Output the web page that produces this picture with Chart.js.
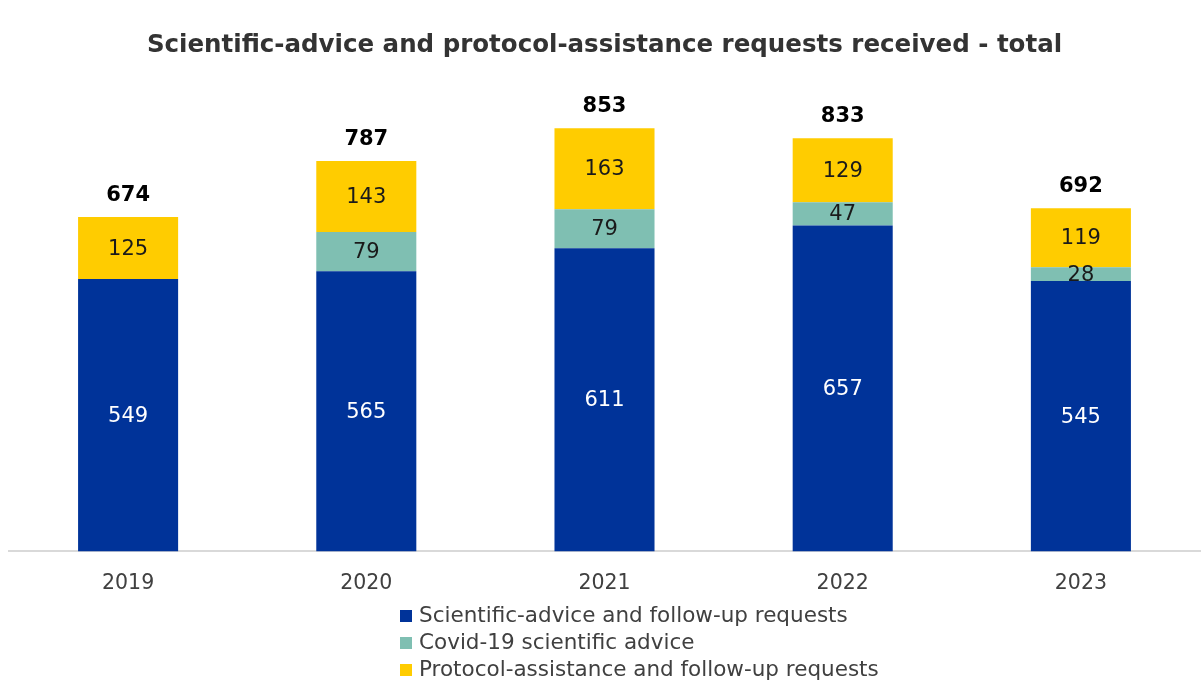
<!DOCTYPE html>
<html>
<head>
<meta charset="utf-8">
<script src="https://cdn.jsdelivr.net/npm/chart.js@4/dist/chart.umd.min.js"></script>
<style>
  html, body { margin: 0; padding: 0; background: #ffffff; }
  #wrap { width: 1201px; height: 680px; position: relative; }
</style>
</head>
<body>
<div id="wrap"><canvas id="chart" width="1201" height="680"></canvas></div>
<script>
// Requests received per year, split by request type
const years = ['2019', '2020', '2021', '2022', '2023'];
const scientificAdvice = [549, 565, 611, 657, 545];
const covidAdvice = [0, 79, 79, 47, 28];
const protocolAssistance = [125, 143, 163, 129, 119];

const seriesNames = [
  'Scientific-advice and follow-up requests',
  'Covid-19 scientific advice',
  'Protocol-assistance and follow-up requests'
];
const seriesColors = ['#003399', '#7fbfb2', '#ffcc00'];
const labelColors = ['#ffffff', '#1a1a1a', '#1a1a1a'];

const FONT = "'DejaVu Sans', Verdana, sans-serif";

// Segment values inside each bar and the stack total above it
const valueLabels = {
  id: 'valueLabels',
  afterDatasetsDraw(chart) {
    const ctx = chart.ctx;
    ctx.save();
    ctx.textAlign = 'center';
    ctx.textBaseline = 'middle';
    ctx.font = '21px ' + FONT;
    chart.data.datasets.forEach((ds, di) => {
      const meta = chart.getDatasetMeta(di);
      meta.data.forEach((bar, i) => {
        const v = ds.data[i];
        if (!v) return;
        ctx.fillStyle = labelColors[di];
        ctx.fillText(String(v), bar.x, (bar.y + bar.base) / 2 + 1);
      });
    });
    ctx.font = 'bold 21px ' + FONT;
    ctx.fillStyle = '#000000';
    const last = chart.getDatasetMeta(chart.data.datasets.length - 1);
    years.forEach((y, i) => {
      const total = scientificAdvice[i] + covidAdvice[i] + protocolAssistance[i];
      const top = chart.scales.y.getPixelForValue(total);
      ctx.fillText(String(total), last.data[i].x, top - 22);
    });
    ctx.restore();
  }
};

// One legend entry per line under the axis labels
const stackedLegend = {
  id: 'stackedLegend',
  afterDraw(chart) {
    const ctx = chart.ctx;
    ctx.save();
    ctx.font = '21.5px ' + FONT;
    ctx.textBaseline = 'middle';
    ctx.textAlign = 'left';
    const left = 400, top = 616, step = 27, box = 12;
    chart.data.datasets.forEach((ds, i) => {
      const cy = top + i * step;
      ctx.fillStyle = ds.backgroundColor;
      ctx.fillRect(left, cy - box / 2, box, box);
      ctx.fillStyle = '#404040';
      ctx.fillText(ds.label, left + 19, cy);
    });
    ctx.restore();
  }
};

new Chart(document.getElementById('chart'), {
  type: 'bar',
  data: {
    labels: years,
    datasets: [
      { label: seriesNames[0], data: scientificAdvice, backgroundColor: seriesColors[0] },
      { label: seriesNames[1], data: covidAdvice, backgroundColor: seriesColors[1] },
      { label: seriesNames[2], data: protocolAssistance, backgroundColor: seriesColors[2] }
    ]
  },
  options: {
    responsive: false,
    animation: false,
    layout: { padding: { left: 9, right: 1, top: 0, bottom: 64 } },
    datasets: { bar: { categoryPercentage: 1, barPercentage: 0.42, borderWidth: 0 } },
    scales: {
      x: {
        stacked: true,
        grid: { display: false, drawTicks: false },
        border: { color: '#d9d9d9', width: 2 },
        ticks: { color: '#404040', font: { family: FONT, size: 20.5 }, padding: 20 }
      },
      y: {
        stacked: true,
        display: false,
        min: 0,
        max: 900
      }
    },
    plugins: {
      legend: { display: false },
      tooltip: { enabled: false },
      title: {
        display: true,
        text: 'Scientific-advice and protocol-assistance requests received - total',
        color: '#333333',
        font: { family: FONT, size: 24.5, weight: 'bold' },
        padding: { top: 31, bottom: 44.6 }
      }
    }
  },
  plugins: [valueLabels, stackedLegend]
});
</script>
</body>
</html>
